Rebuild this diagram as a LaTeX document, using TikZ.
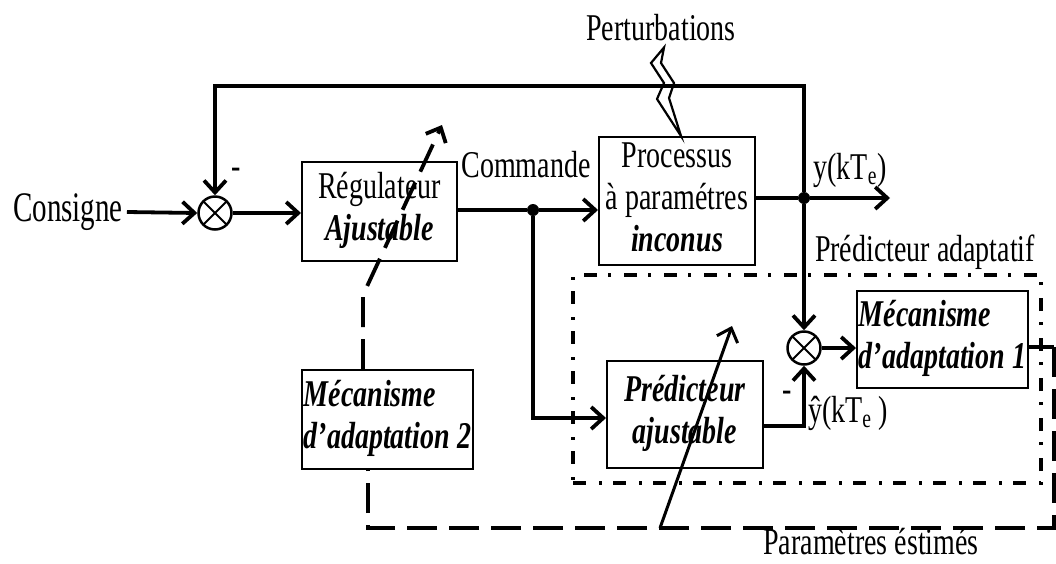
\documentclass[tikz,border=0pt]{standalone}
\usepackage{fontspec}
\setmainfont{Liberation Serif}
\usepackage{graphicx}
\usetikzlibrary{arrows.meta}

% tall, narrow lettering used throughout the scheme
\newcommand{\tl}[1]{\scalebox{1}[1.35]{#1}}
\newcommand{\bi}[1]{\textbf{\textit{#1}}}
\newcommand{\lines}[1]{\tl{\begin{tabular}{@{}c@{}}#1\end{tabular}}}
\newcommand{\llines}[1]{\tl{\begin{tabular}{@{}l@{}}#1\end{tabular}}}

\begin{document}
\begin{tikzpicture}[x=1pt,y=-1pt,
  txt/.style={inner sep=0pt,font=\fontsize{28}{31}\selectfont},
  blk/.style={txt,draw,line width=2pt},
  sumj/.style={circle,draw,line width=2.5pt,minimum size=33pt,inner sep=0pt,
    path picture={\draw[line width=2pt]
      (path picture bounding box.north west)--(path picture bounding box.south east)
      (path picture bounding box.north east)--(path picture bounding box.south west);}},
  barb/.style={-{Straight Barb[length=12pt,width=22pt]}},
  wire/.style={line width=3.8pt,line join=miter},
  arr/.style={wire,barb},
  estim/.style={line width=3.8pt,dash pattern=on 30pt off 12pt},
  adapt/.style={line width=3.2pt,dash pattern=on 13pt off 13pt on 3pt off 11pt},
  dot/.style={circle,fill,inner sep=0pt,minimum size=12pt}
]
\useasboundingbox (0,0) rectangle (1056,563);

% blocks
\node[blk,minimum width=155pt,minimum height=99pt] (reg) at (379.5,211.5)
  {\lines{Régulateur\\\bi{Ajustable}}};
\node[blk,minimum width=156pt,minimum height=128pt] (proc) at (677,201)
  {\lines{Processus\\à paramétres\\\bi{inconus}}};
\node[blk,minimum width=156pt,minimum height=107pt] (pred) at (685,414.5)
  {\lines{\bi{Prédicteur}\\\bi{ajustable}}};
\node[blk,minimum width=171pt,minimum height=97pt] (mec1) at (942.5,339.5)
  {\llines{\bi{Mécanisme}\\\bi{d’adaptation 1}}};
\node[blk,minimum width=171pt,minimum height=99pt] (mec2) at (387.5,419.5)
  {\llines{\bi{Mécanisme}\\\bi{d’adaptation 2}}};

% adaptive predictor frame
\node[adapt,draw,minimum width=468pt,minimum height=208pt,inner sep=0pt] (pa) at (807,379) {};

% summing junctions and branch points
\node[sumj] (s1) at (215,213) {};
\node[sumj] (s2) at (804,348) {};
\node[dot] (j1) at (533,210) {};
\node[dot] (j2) at (804,198) {};

% labels
\node[txt,font=\fontsize{29}{33}\selectfont,inner xsep=4pt] (cons) at (68,212)
  {\scalebox{1}[1.45]{Consigne}};
\node[txt] (cmd) at (526,165) {\tl{Commande}};
\node[txt] (pert) at (661,28) {\tl{Perturbations}};
\node[txt] (yk) at (850,170) {\tl{y(kT\textsubscript{e})}};
\node[txt] (yh) at (848,413) {\tl{ŷ(kT\textsubscript{e} )}};
\node[txt] (m1) at (236,173) {\tl{-}};
\node[txt] (m2) at (787,396) {\tl{-}};
\node[txt] (pal) at (925,252) {\tl{Prédicteur adaptatif}};
\node[txt,anchor=base] (pe) at (871,554) {\tl{Paramètres éstimés}};

% free ends and corners
\coordinate (yout) at (890,198);
\coordinate (fb) at (804,86);
\coordinate (pi) at (533,418);
\coordinate (po) at (804,426);
\coordinate (m1o) at (1054,347);
\coordinate (c1) at (368,528);
\coordinate (m2k) at (363,295);
\coordinate (rtip) at (442,125);
\coordinate (pbase) at (660,528);
\coordinate (ptip) at (732,326);

% main loop
\draw[arr] (cons.east) -- (s1.west);
\draw[arr] (s1.east) -- (reg.west |- s1.east);
\draw[wire] (j1 -| reg.east) -- (j1);
\draw[arr] (j1) -- (j1 -| proc.west);
\draw[wire] (j2 -| proc.east) -- (j2);
\draw[arr] (j2) -- (yout);
\draw[arr] (j2) -- (fb) -| (s1.north);

% predictor branch
\draw[arr] (j1) -- (pi) -- (pi -| pred.west);
\draw[arr] (po -| pred.east) -- (po) -- (s2.south);
\draw[arr] (j2) -- (s2.north);
\draw[arr] (s2.east) -- (mec1.west |- s2.east);

% estimated parameters
\draw[wire] (m1o -| mec1.east) -- (m1o);
\draw[estim] (m1o) -- (1054,528) -- (c1) -- (c1 |- mec2.south);
\draw[estim,barb] (m2k |- mec2.north) -- (m2k) -- (rtip);
\draw[line width=3pt,barb] (pbase) -- (ptip);

% disturbance
\draw[line width=2.2pt,line join=miter] (pert.south) ++(3,6)
  -- (651,63) -- (664,83) -- (657,99) -- (proc.north -| 681,0)
  -- (669,98) -- (674,83) -- (661,63) -- cycle;
\end{tikzpicture}
\end{document}
